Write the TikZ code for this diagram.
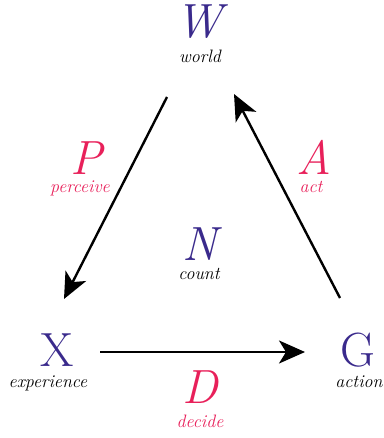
\documentclass[tikz,border=0pt]{standalone}
\usetikzlibrary{arrows.meta}
\definecolor{vio}{HTML}{3A2A8C}
\definecolor{pnk}{HTML}{E8205A}
\begin{document}
\begin{tikzpicture}[x=1pt,y=-1pt,
  big/.style={inner sep=0pt,anchor=base,font=\fontsize{48}{48}\selectfont\itshape},
  sml/.style={inner sep=0pt,anchor=base,font=\fontsize{18}{18}\selectfont\itshape},
  arr/.style={line width=2.4pt,-{Stealth[length=26pt,width=23pt,inset=7pt]}}]
\useasboundingbox (0,0) rectangle (383,438);
\node[big,text=vio] (W) at (199,38) {W};
\node[sml] (w) at (200,63) {world};
\node[big,text=pnk] (P) at (86,175) {P};
\node[sml,text=pnk] (p) at (80,193) {perceive};
\node[big,text=pnk] (A) at (314,175) {A};
\node[sml,text=pnk] (a) at (311,193) {act};
\node[big,text=vio] (N) at (200,260) {N};
\node[sml] (n) at (199,279) {count};
\node[big,text=vio,font=\fontsize{48}{48}\selectfont\upshape] (X) at (57,366) {X};
\node[sml] (x) at (48,387) {experience};
\node[big,text=vio,font=\fontsize{48}{48}\selectfont\upshape] (G) at (358,366) {G};
\node[sml] (g) at (359,387) {action};
\node[big,text=pnk] (D) at (200,403) {D};
\node[sml,text=pnk] (d) at (200,427) {decide};
\coordinate (c1) at (167,97);
\coordinate (c2) at (64,299);
\coordinate (c3) at (340,298);
\coordinate (c4) at (234,94);
\coordinate (c5) at (100,352);
\coordinate (c6) at (305,352);
\draw[arr] (c1) -- (c2);
\draw[arr] (c3) -- (c4);
\draw[arr] (c5) -- (c6);
\end{tikzpicture}
\end{document}
